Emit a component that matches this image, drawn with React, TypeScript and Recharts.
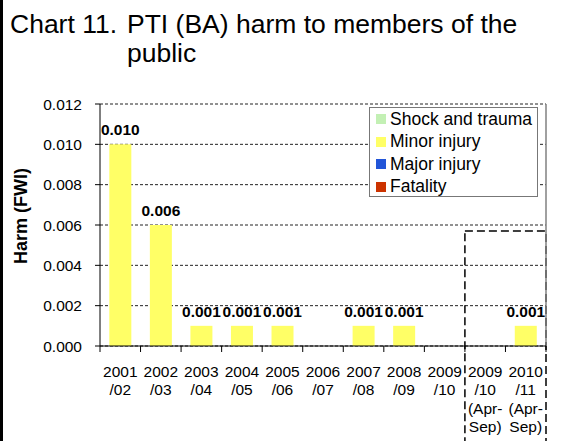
import React from 'react';
import { BarChart, Bar, XAxis, YAxis, CartesianGrid, LabelList, ReferenceArea, ReferenceLine } from 'recharts';

const categories = [
  '2001/02', '2002/03', '2003/04', '2004/05', '2005/06', '2006/07',
  '2007/08', '2008/09', '2009/10', '2009/10 (Apr-Sep)', '2010/11 (Apr-Sep)',
];
const xLabelLines = [
  ['2001', '/02'], ['2002', '/03'], ['2003', '/04'], ['2004', '/05'], ['2005', '/06'], ['2006', '/07'],
  ['2007', '/08'], ['2008', '/09'], ['2009', '/10'], ['2009', '/10', '(Apr-', 'Sep)'], ['2010', '/11', '(Apr-', 'Sep)'],
];
const shockAndTrauma = [0, 0, 0, 0, 0, 0, 0, 0, 0, 0, 0];
const minorInjury = [0.010, 0.006, 0.001, 0.001, 0.001, 0, 0.001, 0.001, 0, 0, 0.001];
const majorInjury = [0, 0, 0, 0, 0, 0, 0, 0, 0, 0, 0];
const fatality = [0, 0, 0, 0, 0, 0, 0, 0, 0, 0, 0];
const yTicks = [0, 0.002, 0.004, 0.006, 0.008, 0.01, 0.012];

// dashed box around the half-year periods
const halfYearTop = 0.0057;
const halfYearBottom = -0.006;

const series = [
  { key: 'shock', name: 'Shock and trauma', color: '#c3f0b4' },
  { key: 'minor', name: 'Minor injury', color: '#ffff66' },
  { key: 'major', name: 'Major injury', color: '#2255d8' },
  { key: 'fatal', name: 'Fatality', color: '#cc3300' },
];

const data = categories.map((c, i) => ({
  cat: c,
  shock: shockAndTrauma[i],
  minor: minorInjury[i],
  major: majorInjury[i],
  fatal: fatality[i],
}));

const FONT = '"Liberation Sans", Arial, sans-serif';

function XTick(props: any) {
  const { x, y, payload } = props;
  const idx = categories.indexOf(payload.value);
  const half = payload.offset || 20.27;
  const lines = xLabelLines[idx] || [];
  const isLast = idx === categories.length - 1;
  return (
    <g>
      <line x1={x - half} x2={x - half} y1={y - 6} y2={y} stroke="#000" />
      {isLast && <line x1={x + half} x2={x + half} y1={y - 6} y2={y} stroke="#000" />}
      <text x={x} y={y} textAnchor="middle" fontSize={15.5} fontFamily={FONT} fill="#000">
        {lines.map((l, i) => (
          <tspan key={i} x={x} y={y + 25 + i * 18.3}>{l}</tspan>
        ))}
      </text>
    </g>
  );
}

function ValueLabel(props: any) {
  const { x, y, width, value } = props;
  if (!value) return null;
  return (
    <text x={x + width / 2} y={y - 9} textAnchor="middle" fontSize={15.5} fontWeight="bold" fontFamily={FONT} fill="#000">
      {Number(value).toFixed(3)}
    </text>
  );
}

export default function App() {
  return (
    <div style={{ position: 'relative', width: 570, height: 441, background: '#fff', fontFamily: FONT, overflow: 'hidden' }}>
      <style>{'body{margin:0}'}</style>
      <div style={{ position: 'absolute', left: 0, top: 0, width: 3, height: 441, background: '#000' }} />
      <div style={{ position: 'absolute', left: 10, top: 10, fontSize: 26.5, lineHeight: '29px', color: '#000', whiteSpace: 'nowrap' }}>
        <div>Chart 11.<span style={{ position: 'absolute', left: 117 }}>PTI (BA) harm to members of the</span></div>
        <div style={{ paddingLeft: 117 }}>public</div>
      </div>
      <div style={{ position: 'absolute', top: 0, left: 0 }}>
        <BarChart width={570} height={441} data={data} margin={{ top: 104, right: 24, bottom: 55, left: 10 }} barCategoryGap="23%">
          <CartesianGrid vertical={false} stroke="#222" strokeDasharray="3 2" />
          <XAxis
            dataKey="cat"
            interval={0}
            height={40}
            tickSize={6}
            tickMargin={0}
            tickLine={false}
            tick={<XTick />}
            axisLine={{ stroke: '#000' }}
          />
          <YAxis
            width={90}
            domain={[0, 0.012]}
            ticks={yTicks}
            tickFormatter={(v: number) => v.toFixed(3)}
            tickSize={5}
            tickMargin={13}
            tick={{ fontSize: 15.5, fill: '#000', fontFamily: FONT }}
            tickLine={{ stroke: '#000' }}
            axisLine={{ stroke: '#000' }}
            label={{
              content: () => (
                <text x={21} y={216} transform="rotate(-90 21 216)" textAnchor="middle" dominantBaseline="central" fontSize={18} fontWeight="bold" fontFamily={FONT} fill="#000">
                  Harm (FWI)
                </text>
              ),
            }}
          />
          <ReferenceLine x={categories[categories.length - 1]} position="end" stroke="#808080" strokeWidth={1.5} />
          {series.map((s) => (
            <Bar key={s.key} dataKey={s.key} name={s.name} stackId="a" fill={s.color} isAnimationActive={false}>
              {s.key === 'minor' && <LabelList dataKey="minor" content={<ValueLabel />} />}
            </Bar>
          ))}
          <ReferenceArea
            x1={categories[9]}
            x2={categories[10]}
            y1={halfYearBottom}
            y2={halfYearTop}
            ifOverflow="visible"
            fill="none"
            stroke="#000"
            strokeWidth={1.5}
            strokeDasharray="8 4"
          />
        </BarChart>
      </div>
      <div style={{ position: 'absolute', left: 369, top: 107, width: 167, height: 88, border: '1px solid #777', background: '#fff' }}>
        {series.map((s, i) => (
          <div key={s.key} style={{ position: 'absolute', left: 6, top: i * 22.5, height: 22, display: 'flex', alignItems: 'center', fontSize: 17.5, whiteSpace: 'nowrap' }}>
            <span style={{ display: 'inline-block', width: 10, height: 10, background: s.color, marginRight: 4 }} />
            {s.name}
          </div>
        ))}
      </div>
    </div>
  );
}
